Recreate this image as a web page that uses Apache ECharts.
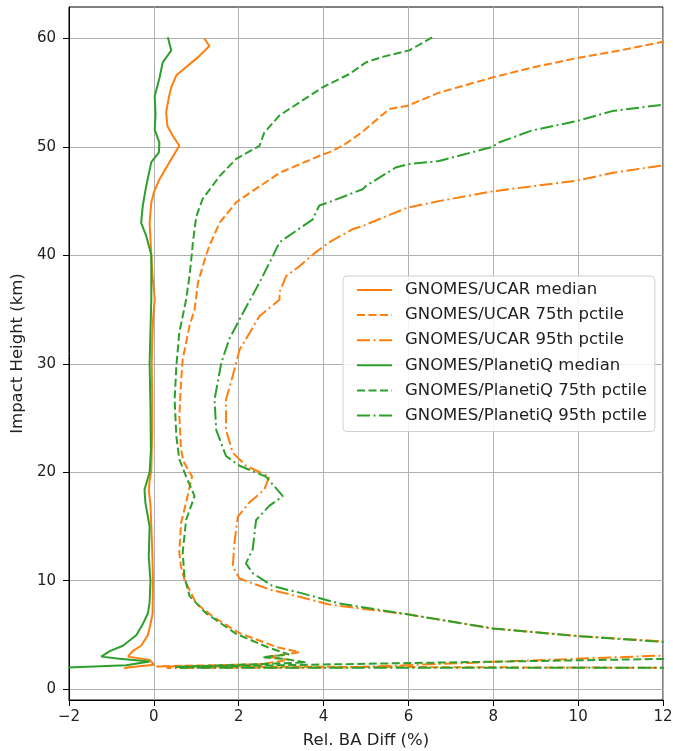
<!DOCTYPE html>
<html>
<head>
<meta charset="utf-8">
<script src="https://cdn.jsdelivr.net/npm/echarts@6/dist/echarts.min.js"></script>
<style>
html,body{margin:0;padding:0;background:#fff;}
#chart{width:673px;height:751px;}
</style>
</head>
<body>
<div id="chart"></div>
<script>
// ---- data: [Rel. BA Diff (%), Impact Height (km)] ----
const seriesNames = [
  'GNOMES/UCAR median', 'GNOMES/UCAR 75th pctile', 'GNOMES/UCAR 95th pctile',
  'GNOMES/PlanetiQ median', 'GNOMES/PlanetiQ 75th pctile', 'GNOMES/PlanetiQ 95th pctile'
];
const xTicks = [-2, 0, 2, 4, 6, 8, 10, 12];
const yTicks = [0, 10, 20, 30, 40, 50, 60];

const ucarMedian = [
  [1.19,60.0],[1.31,59.3],[1.05,58.3],[0.53,56.6],[0.41,55.5],[0.35,54.5],[0.29,53.2],[0.32,51.9],
  [0.45,51.0],[0.6,50.1],[0.37,48.6],[0.13,47.0],[0.0,45.8],[-0.06,44.9],[-0.1,43.0],[-0.08,41.5],
  [-0.06,40],[-0.03,38],[0.02,36],[-0.02,34],[-0.04,32],[-0.05,30],[-0.04,27],[-0.04,24],[-0.05,22],
  [-0.06,20.2],[-0.1,19.2],[-0.12,18.4],[-0.08,17],[-0.06,15],[-0.04,13],[-0.02,10],[-0.03,7],
  [-0.08,6],[-0.14,5],[-0.3,4],[-0.5,3.5],[-0.61,3.0],[-0.1,2.7],[0.0,2.25],[-0.62,2.0],[-0.7,1.9]
];
const ucar75 = [
  [12.3,60.0],[12.0,59.7],[11.0,58.9],[9.98,58.2],[8.9,57.3],[7.98,56.4],[6.72,55.0],[5.98,53.8],
  [5.55,53.5],[4.92,51.4],[4.45,50.1],[4.13,49.5],[3.98,49.3],[2.96,47.6],[1.94,44.9],[1.55,43.0],
  [1.31,40.9],[1.23,40.0],[1.04,37.5],[0.96,35],[0.84,33.5],[0.68,30.4],[0.64,28.3],[0.6,25.2],
  [0.64,22.1],[0.7,21],[0.9,19.6],[0.76,17.2],[0.64,15.3],[0.6,12.6],[0.64,11.3],[0.72,10.1],
  [1.0,7.9],[1.39,6.7],[2.0,5.2],[2.88,3.9],[3.43,3.4],[2.7,3.0],[3.2,2.7],[2.5,2.3],[0.06,2.1],[14,1.95]
];
const ucar95 = [
  [13.5,48.9],[12,48.3],[10.8,47.6],[9.98,46.9],[7.98,45.9],[6.72,45.0],[5.98,44.4],[5.47,43.6],
  [4.92,42.7],[4.68,42.4],[4.13,41.2],[3.82,40.3],[3.43,39.0],[3.12,38.1],[2.96,36.6],[2.96,35.9],
  [2.49,34.4],[2.02,31.3],[1.86,28.9],[1.7,26.7],[1.7,23.9],[1.86,21.8],[2.17,20.6],[2.72,19.6],
  [2.6,18.4],[2.25,17.2],[1.98,15.9],[1.9,13.5],[1.86,11.3],[2.02,10.2],[2.72,9.2],[3.35,8.6],
  [4.13,7.8],[5.98,6.9],[7.98,5.6],[9.98,4.9],[12,4.4],[20,4.27],[4.5,2.0],[0.3,1.95]
];
const pqMedian = [
  [0.33,60.1],[0.41,58.9],[0.21,57.8],[0.13,56.3],[0.02,54.7],[0.04,53],[0.02,51.6],[0.13,50.4],
  [0.12,49.5],[-0.06,48.6],[-0.18,46.4],[-0.26,44.6],[-0.3,43.0],[-0.18,41.8],[-0.06,40],[-0.06,36],
  [-0.08,33],[-0.1,30],[-0.08,26],[-0.07,22],[-0.1,20],[-0.22,18.4],[-0.2,17.2],[-0.1,15],[-0.12,12.2],
  [-0.08,10],[-0.1,8],[-0.14,7],[-0.26,6],[-0.41,5],[-0.73,4],[-1.04,3.5],[-1.24,3.0],[-0.81,2.8],
  [-0.1,2.55],[-0.65,2.2],[-2.3,1.95]
];
const pq75 = [
  [6.56,60.1],[6.02,58.9],[5.39,58.3],[5.0,57.8],[4.6,56.7],[4.13,55.8],[3.98,55.5],[2.96,52.9],
  [2.6,51.3],[2.49,50.1],[1.94,48.9],[1.55,47.3],[1.15,45.2],[1.0,43.6],[0.92,41.2],[0.9,40.3],
  [0.84,38.1],[0.76,35.9],[0.6,32.9],[0.53,29.8],[0.49,26.7],[0.53,23.3],[0.6,21.2],[0.76,19.6],
  [0.96,17.8],[0.76,15.6],[0.68,12.6],[0.72,10.4],[0.84,8.6],[1.23,7.0],[1.94,5.1],[2.72,3.8],
  [3.19,3.2],[2.56,2.95],[3.12,2.77],[3.59,2.46],[0.5,2.05],[20,3.3]
];
const pq95 = [
  [13.5,54.3],[12,53.9],[10.8,53.3],[9.98,52.4],[8.9,51.5],[8.13,50.4],[7.98,50.0],[6.72,48.7],
  [5.98,48.4],[5.7,48.1],[5.0,46.4],[4.92,46.1],[4.13,44.9],[3.9,44.6],[3.74,43.3],[2.96,41.2],
  [2.8,39.9],[2.49,37.5],[2.06,34.4],[1.78,32.3],[1.59,30.1],[1.43,26.7],[1.47,23.9],[1.7,21.5],
  [2.02,20.6],[2.64,19.6],[3.04,17.8],[2.72,16.9],[2.41,15.6],[2.33,12.9],[2.17,11.6],[2.33,10.7],
  [2.8,9.5],[3.43,8.9],[4.37,7.9],[5.98,6.9],[7.98,5.6],[9.98,4.9],[12,4.35],[22,4.1],[22,1.97],[0.6,1.97]
];

const ORANGE = '#ff7f0e', GREEN = '#2ca02c';
const DASH = [8, 3.5], DASHDOT = [13, 3.5, 2, 3.5];
const dataList = [ucarMedian, ucar75, ucar95, pqMedian, pq75, pq95];
const colors = [ORANGE, ORANGE, ORANGE, GREEN, GREEN, GREEN];
const types = ['solid', DASH, DASHDOT, 'solid', DASH, DASHDOT];

const chart = echarts.init(document.getElementById('chart'), null, {renderer: 'canvas'});
const FONT = 'DejaVu Sans';
chart.setOption({
  animation: false,
  backgroundColor: '#fff',
  grid: {left: 69, right: 10, top: 7, bottom: 51, containLabel: false, outerBoundsMode: 'none',
    show: true, borderColor: '#000', borderWidth: 1, backgroundColor: 'transparent'},
  xAxis: {
    type: 'value', min: -2, max: 12, interval: 2,
    name: 'Rel. BA Diff (%)', nameLocation: 'middle', nameGap: 32,
    nameTextStyle: {fontFamily: FONT, fontSize: 16.5, color: '#222'},
    axisLine: {show: true, onZero: false, lineStyle: {color: '#000'}},
    axisTick: {show: true, length: 6, lineStyle: {color: '#000'}},
    axisLabel: {fontFamily: FONT, fontSize: 15, color: '#222', margin: 10,
      formatter: v => (v < 0 ? '\u2212' + Math.abs(v) : String(v))},
    splitLine: {show: true, lineStyle: {color: '#b0b0b0', width: 1}}
  },
  yAxis: {
    type: 'value', min: -1, max: 62.9,
    name: 'Impact Height (km)', nameLocation: 'middle', nameGap: 42,
    nameTextStyle: {fontFamily: FONT, fontSize: 16.5, color: '#222'},
    axisLine: {show: true, onZero: false, lineStyle: {color: '#000'}},
    axisTick: {show: true, length: 6, lineStyle: {color: '#000'}, customValues: yTicks},
    axisLabel: {fontFamily: FONT, fontSize: 15, color: '#222', margin: 13, customValues: yTicks},
    splitLine: {show: true, lineStyle: {color: '#b0b0b0', width: 1}}
  },
  legend: {
    orient: 'vertical', left: 343, top: 276,
    padding: [4, 8, 6, 13], itemWidth: 35, itemHeight: 20, itemGap: 5.1,
    itemStyle: {opacity: 0},
    backgroundColor: 'rgba(255,255,255,0.85)', borderColor: '#d0d0d0', borderWidth: 1, borderRadius: 4,
    textStyle: {fontFamily: FONT, fontSize: 16.5, lineHeight: 20, color: '#222', padding: [0, 0, 0, 8]},
    data: seriesNames
  },
  series: dataList.map((d, i) => ({
    name: seriesNames[i], type: 'line', data: d, symbol: 'none', clip: true,
    lineStyle: {color: colors[i], width: 2, type: types[i]},
    itemStyle: {color: colors[i]}
  }))
});
</script>
</body>
</html>
